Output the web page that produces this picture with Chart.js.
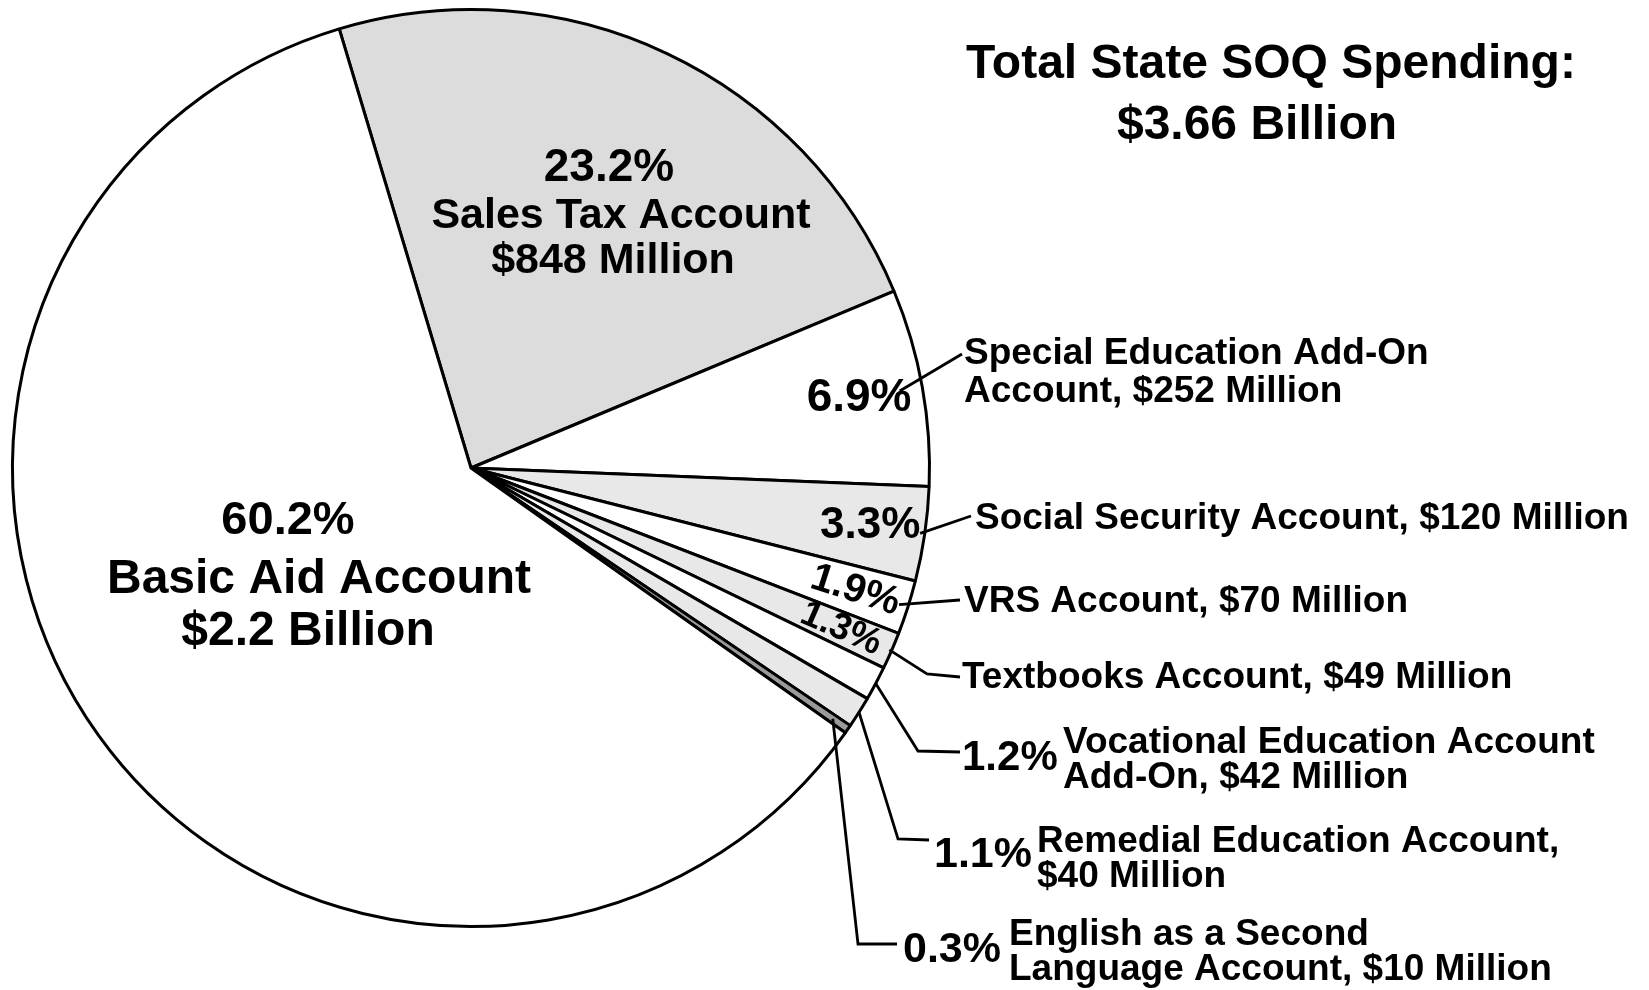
<!DOCTYPE html>
<html>
<head>
<meta charset="utf-8">
<script src="https://cdn.jsdelivr.net/npm/chart.js@4"></script>
<style>
  html, body { margin: 0; padding: 0; background: #fff; }
  #wrap { width: 1649px; height: 990px; position: relative; }
</style>
</head>
<body>
<div id="wrap"><canvas id="chart"></canvas></div>
<script>
// data (clockwise from the sales tax slice)
const accounts = ['Sales Tax Account', 'Special Education Add-On Account', 'Social Security Account',
  'VRS Account', 'Textbooks Account', 'Vocational Education Account Add-On',
  'Remedial Education Account', 'English as a Second Language Account', 'Basic Aid Account']
const shares = [23.2, 6.9, 3.3, 1.9, 1.3, 1.2, 1.1, 0.3, 60.2]
const amounts = ['$848 Million', '$252 Million', '$120 Million', '$70 Million', '$49 Million',
  '$42 Million', '$40 Million', '$10 Million', '$2.2 Billion']
const fills = ['#dcdcdc', '#ffffff', '#e8e8e8', '#ffffff', '#e8e8e8', '#ffffff', '#e8e8e8', '#9a9a9a', '#ffffff']
const titleLines = ['Total State SOQ Spending:', '$3.66 Billion']

const FONT = '"Liberation Sans", Arial, sans-serif'
const pct = v => v.toFixed(1) + '%'

// label layout (positions only, not data)
// 'block': centred text lines inside a big slice; 'side': leader line + text on the right
const layout = [
  { kind: 'block', lines: [[pct(shares[0]), 609, 168, 46], ['Sales Tax Account', 621, 216, 43], [amounts[0], 613, 261, 43]] },
  { kind: 'side', inner: { r: 0.86, size: 46 }, lead: { r: 0.95, pts: [[962, 354]] },
    text: [['Special Education Add-On', 964, 354], ['Account, ' + amounts[1], 964, 392]] },
  { kind: 'side', inner: { r: 0.88, size: 44 }, lead: { r: 0.99, pts: [[971, 516]] },
    text: [['Social Security Account, ' + amounts[2], 975, 519]] },
  { kind: 'side', inner: { r: 0.88, size: 40, rotate: true }, lead: { r: 0.98, pts: [[960, 600]] },
    text: [['VRS Account, ' + amounts[3], 964, 602]] },
  { kind: 'side', inner: { r: 0.88, size: 37, rotate: true }, lead: { r: 0.995, pts: [[927, 674], [960, 677]] },
    text: [['Textbooks Account, ' + amounts[4], 962, 678]] },
  { kind: 'side', outer: [962, 758, 42], lead: { r: 1.0, pts: [[918, 751], [960, 752]] },
    text: [['Vocational Education Account', 1063, 743], ['Add-On, ' + amounts[5], 1063, 778]] },
  { kind: 'side', outer: [934, 855, 43], lead: { r: 1.0, pts: [[898, 839], [929, 840]] },
    text: [['Remedial Education Account,', 1037, 842], [amounts[6], 1037, 877]] },
  { kind: 'side', outer: [903, 950, 43], lead: { r: 0.96, pts: [[858, 944], [897, 944]] },
    text: [['English as a Second', 1009, 935], ['Language Account, ' + amounts[7], 1009, 970]] },
  { kind: 'block', lines: [[pct(shares[8]), 288, 521, 47], ['Basic Aid Account', 319, 580, 48], [amounts[8], 308, 632, 48]] }
]

const labelPlugin = {
  id: 'labels',
  afterDatasetsDraw(chart) {
    const ctx = chart.ctx
    const arcs = chart.getDatasetMeta(0).data
    ctx.save()
    ctx.fillStyle = '#000'
    ctx.strokeStyle = '#000'
    ctx.textBaseline = 'middle'

    // title
    ctx.textAlign = 'center'
    ctx.font = 'bold 48px ' + FONT
    ctx.fillText(titleLines[0], 1271, 65)
    ctx.fillText(titleLines[1], 1257, 126)

    layout.forEach((lab, i) => {
      const a = arcs[i]
      const mid = (a.startAngle + a.endAngle) / 2
      const R = a.outerRadius
      const at = f => [a.x + Math.cos(mid) * R * f, a.y + Math.sin(mid) * R * f]
      if (lab.kind === 'block') {
        ctx.textAlign = 'center'
        lab.lines.forEach(([t, x, y, s]) => {
          ctx.font = 'bold ' + s + 'px ' + FONT
          ctx.fillText(t, x, y)
        })
        return
      }
      // leader line from the slice
      ctx.lineWidth = 2.8
      ctx.lineJoin = 'miter'
      ctx.beginPath()
      const p0 = at(lab.lead.r)
      ctx.moveTo(p0[0], p0[1])
      lab.lead.pts.forEach(p => ctx.lineTo(p[0], p[1]))
      ctx.stroke()
      // percentage
      if (lab.inner) {
        const [x, y] = at(lab.inner.r)
        ctx.save()
        ctx.translate(x, y)
        if (lab.inner.rotate) ctx.rotate(mid)
        ctx.textAlign = 'center'
        ctx.font = 'bold ' + lab.inner.size + 'px ' + FONT
        ctx.fillText(pct(shares[i]), 0, 0)
        ctx.restore()
      } else {
        ctx.textAlign = 'left'
        ctx.font = 'bold ' + lab.outer[2] + 'px ' + FONT
        ctx.fillText(pct(shares[i]), lab.outer[0], lab.outer[1])
      }
      ctx.textAlign = 'left'
      ctx.font = 'bold 37px ' + FONT
      lab.text.forEach(([t, x, y]) => ctx.fillText(t, x, y))
    })
    ctx.restore()
  }
}

new Chart(document.getElementById('chart'), {
  type: 'pie',
  data: {
    labels: accounts,
    datasets: [{
      data: shares,
      backgroundColor: fills,
      borderColor: '#000',
      borderWidth: 3,
      hoverOffset: 0
    }]
  },
  options: {
    responsive: true,
    maintainAspectRatio: false,
    animation: false,
    rotation: -16.7,
    layout: { padding: { left: 11, top: 8, right: 718, bottom: 62 } },
    plugins: {
      legend: { display: false },
      tooltip: { enabled: false }
    }
  },
  plugins: [labelPlugin]
})
</script>
</body>
</html>
